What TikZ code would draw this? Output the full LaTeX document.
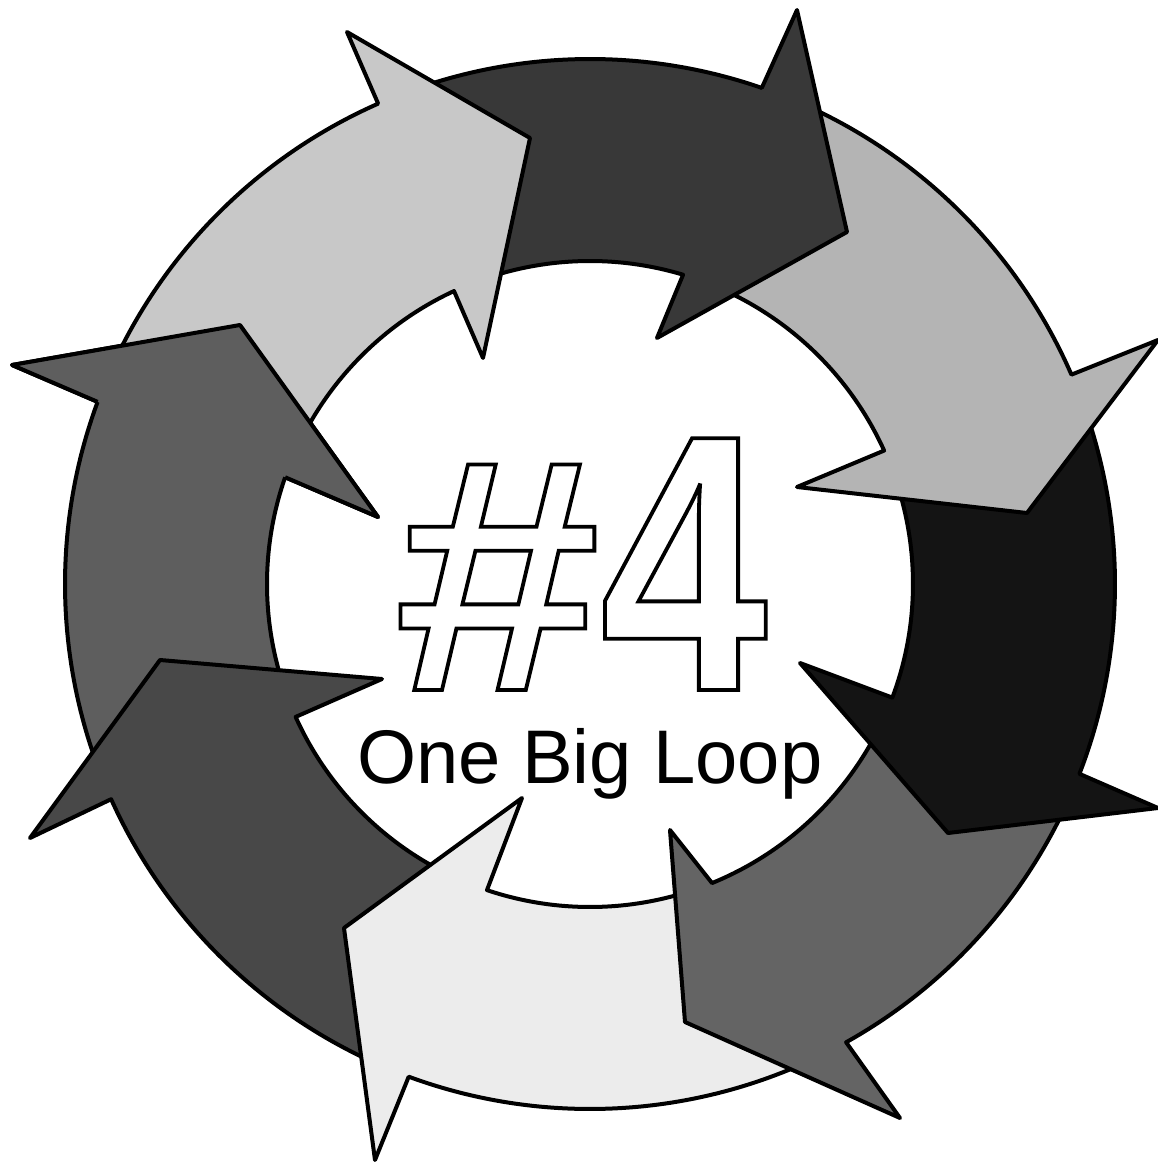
\documentclass[tikz,border=0pt]{standalone}
\usepackage{fontspec}
\setmainfont{Liberation Sans}
\newfontfamily\hashfont[FakeStretch=1.12]{Liberation Sans}
\newfontfamily\fourfont[FakeStretch=0.82]{Liberation Sans}
\definecolor{cA}{HTML}{C8C8C8}
\definecolor{cB}{HTML}{383838}
\definecolor{cC}{HTML}{B4B4B4}
\definecolor{cD}{HTML}{141414}
\definecolor{cE}{HTML}{646464}
\definecolor{cF}{HTML}{ECECEC}
\definecolor{cG}{HTML}{484848}
\definecolor{cH}{HTML}{5E5E5E}
\newcommand{\strokeon}{\special{pdf:literal direct 1 Tr 3.8 w 4 M}}
\newcommand{\strokeoff}{\special{pdf:literal direct 0 Tr}}
\tikzset{
  ring/.style={draw=black, line width=4pt, line join=round},
  hashtext/.style={anchor=base west, inner sep=0pt, text depth=0pt},
  looptext/.style={anchor=base, inner sep=0pt, font=\fontsize{76}{76}\selectfont},
}
\begin{document}
\begin{tikzpicture}[x=1pt,y=1pt]
\useasboundingbox[fill=white] (-590,-579) rectangle (568,584);
% arrow H (left top)
\draw[ring, fill=cH] (201.2:525) arc[start angle=201.2, end angle=159.7, radius=525]
  -- (-578,219) -- (-350,259) -- (-212,67) -- (160.7:323)
  arc[start angle=160.7, end angle=201.3, radius=323] -- cycle;
% arrow G (left bottom)
\draw[ring, fill=cG] (246.8:525) arc[start angle=246.8, end angle=204.2, radius=525]
  -- (-560,-254) -- (-430,-76) -- (-208,-95) -- (204.3:323)
  arc[start angle=204.3, end angle=248.4, radius=323] -- cycle;
% arrow F (bottom)
\draw[ring, fill=cF] (296.2:525) arc[start angle=296.2, end angle=249.8, radius=525]
  -- (-215,-576) -- (-246,-344) -- (-68,-214) -- (251.4:323)
  arc[start angle=251.4, end angle=289.2, radius=323] -- cycle;
% arrow E (bottom right)
\draw[ring, fill=cE] (335.8:525) arc[start angle=335.8, end angle=299.2, radius=525]
  -- (310,-534) -- (95,-438) -- (80,-246) -- (292.2:323)
  arc[start angle=292.2, end angle=336.4, radius=323] -- cycle;
% arrow D (right, black)
\draw[ring, fill=cD] (20.5:525) arc[start angle=20.5, end angle=-21.2, radius=525]
  -- (568,-224) -- (358,-249) -- (210,-79) -- (-20.6:323)
  arc[start angle=-20.6, end angle=21.4, radius=323] -- cycle;
% arrow C (right top)
\draw[ring, fill=cC] (67.9:525) arc[start angle=67.9, end angle=23.5, radius=525]
  -- (568,244) -- (437,71) -- (207,97) -- (24.4:323)
  arc[start angle=24.4, end angle=70.25, radius=323] -- cycle;
% arrow B (top, dark)
\draw[ring, fill=cB] (110.8:525) arc[start angle=110.8, end angle=70.9, radius=525]
  -- (207,574) -- (257,352) -- (67,246) -- (73.25:323)
  arc[start angle=73.25, end angle=111.9, radius=323] -- cycle;
% arrow A (top left)
\draw[ring, fill=cA] (156.7:525) arc[start angle=156.7, end angle=113.8, radius=525]
  -- (-243,552) -- (-60,446) -- (-107,226) -- (114.9:323)
  arc[start angle=114.9, end angle=157.7, radius=323] -- cycle;
% head of arrow H laid again over the tail of arrow A
\fill[cH] (159.7:525) -- (-578,219) -- (-350,259) -- (-212,67) -- (160.7:323) -- cycle;
\draw[ring] (159.7:525) -- (-578,219) -- (-350,259) -- (-212,67) -- (160.7:323);
% texts
\node[looptext] (loop) at (0,-199) {One Big Loop};
\node[hashtext] (num) at (-196,-106) {\strokeon{\hashfont\bfseries\fontsize{331}{331}\selectfont\#}{\fourfont\bfseries\fontsize{366}{366}\selectfont 4}\strokeoff};
\end{tikzpicture}
\end{document}
